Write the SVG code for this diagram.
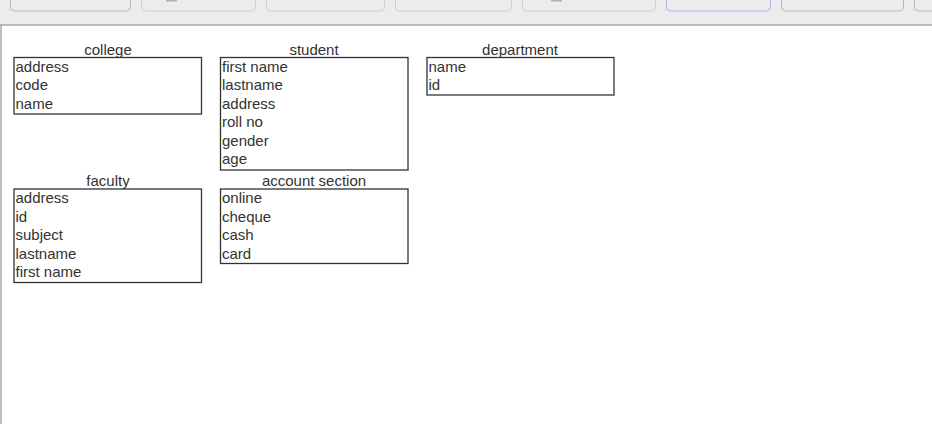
<svg xmlns="http://www.w3.org/2000/svg" width="932" height="424" viewBox="0 0 932 424">
<style>
.tb{fill:#ececec}
.btn{fill:#ececec;stroke:#b8b8b8;stroke-width:1}
.btn2{fill:#ececec;stroke:#cfcfcf;stroke-width:1}
.btnb{fill:#ececec;stroke:#a9b4ef;stroke-width:1}
.box{fill:#fff;stroke:#333;stroke-width:1.3}
.t{font-family:"Liberation Sans",Arial,sans-serif;font-size:15px;fill:#333}
.h{font-family:"Liberation Sans",Arial,sans-serif;font-size:15px;fill:#333;text-anchor:middle}
</style>
<rect x="0" y="0" width="932" height="424" fill="#fff"/>
<g id="toolbar">
<rect class="tb" x="0" y="0" width="932" height="25"/>
<rect class="btn" x="10.5" y="-6" width="120" height="17" rx="4"/>
<rect class="btn2" x="141.5" y="-6" width="114" height="17" rx="4"/>
<rect x="166" y="-2" width="11" height="3.5" fill="#b0b0b0"/>
<rect class="btn2" x="266.5" y="-6" width="118" height="17" rx="4"/>
<rect class="btn2" x="395.5" y="-6" width="116" height="17" rx="4"/>
<rect class="btn2" x="522.5" y="-6" width="133" height="17" rx="4"/>
<rect x="551" y="-2" width="11" height="3.5" fill="#b0b0b0"/>
<rect class="btnb" x="666.5" y="-6" width="104" height="17" rx="4"/>
<rect class="btn" x="781.5" y="-6" width="122" height="17" rx="4"/>
<rect class="btn" x="914.5" y="-6" width="30" height="17" rx="4"/>
<line x1="0" y1="25" x2="932" y2="25" stroke="#a8a8a8" stroke-width="1.3"/>
<line x1="1" y1="25" x2="1" y2="424" stroke="#a8a8a8" stroke-width="1.5"/>
</g>
<g id="connectors"></g>
<g id="college">
<text class="h" x="108" y="54.5">college</text>
<rect class="box" x="14" y="57.5" width="187.5" height="56.5"/>
<text class="t" x="15.5" y="71.5">address</text>
<text class="t" x="15.5" y="90">code</text>
<text class="t" x="15.5" y="108.5">name</text>
</g>
<g id="student">
<text class="h" x="314" y="54.5">student</text>
<rect class="box" x="220.5" y="57.5" width="187.5" height="112.5"/>
<text class="t" x="222" y="71.5">first name</text>
<text class="t" x="222" y="90">lastname</text>
<text class="t" x="222" y="108.5">address</text>
<text class="t" x="222" y="127">roll no</text>
<text class="t" x="222" y="145.5">gender</text>
<text class="t" x="222" y="164">age</text>
</g>
<g id="department">
<text class="h" x="520" y="54.5">department</text>
<rect class="box" x="427" y="57.5" width="187" height="37.5"/>
<text class="t" x="428.5" y="71.5">name</text>
<text class="t" x="428.5" y="90">id</text>
</g>
<g id="faculty">
<text class="h" x="108" y="185.5">faculty</text>
<rect class="box" x="14" y="189" width="187.5" height="93.5"/>
<text class="t" x="15.5" y="203">address</text>
<text class="t" x="15.5" y="221.5">id</text>
<text class="t" x="15.5" y="240">subject</text>
<text class="t" x="15.5" y="258.5">lastname</text>
<text class="t" x="15.5" y="277">first name</text>
</g>
<g id="account-section">
<text class="h" x="314" y="185.5">account section</text>
<rect class="box" x="220.5" y="189" width="187.5" height="74.5"/>
<text class="t" x="222" y="203">online</text>
<text class="t" x="222" y="221.5">cheque</text>
<text class="t" x="222" y="240">cash</text>
<text class="t" x="222" y="258.5">card</text>
</g>
</svg>
